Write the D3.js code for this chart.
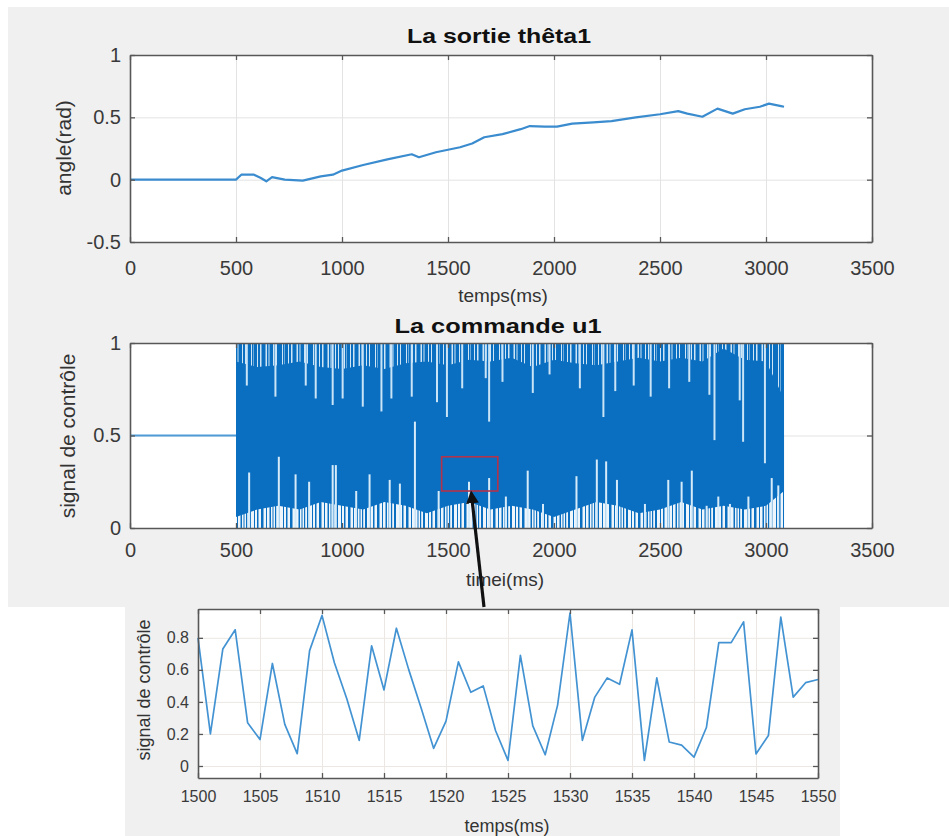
<!DOCTYPE html>
<html>
<head>
<meta charset="utf-8">
<script src="https://cdn.jsdelivr.net/npm/d3@7/dist/d3.min.js"></script>
<style>
  body { margin: 0; background: #fff; }
  svg { display: block; font-family: "Liberation Sans", Arial, sans-serif; }
  .tick text { fill: #3a3a3a; }
  .grid path { display: none; }
</style>
</head>
<body>
<script>
'use strict';

// ---- top plot : theta1 output (ms, rad)
const thetaTime = [0, 500, 525, 585, 615, 643, 670, 730, 815, 900, 957, 1000, 1100, 1214, 1329, 1363, 1443,
  1557, 1614, 1671, 1757, 1843, 1886, 1957, 2014, 2086, 2186, 2271, 2386, 2500, 2586, 2629, 2700,
  2771, 2843, 2900, 2971, 3014, 3071, 3085];
const thetaVal = [0, 0, 0.04, 0.04, 0.015, -0.013, 0.02, 0, -0.008, 0.026, 0.04, 0.073, 0.118, 0.163, 0.204, 0.18, 0.22,
  0.26, 0.29, 0.34, 0.365, 0.405, 0.43, 0.425, 0.425, 0.45, 0.46, 0.47, 0.5, 0.525, 0.55, 0.53, 0.505,
  0.57, 0.53, 0.565, 0.585, 0.61, 0.59, 0.585];

// ---- middle plot : command u1 (dense signal, read as envelope + visible gaps)
const u1Start = 500, u1End = 3085, u1Idle = 0.5;
const coreTime = [500, 600, 700, 800, 900, 1000, 1100, 1200, 1300, 1400, 1500, 1600, 1700, 1800,
  1900, 2000, 2100, 2200, 2300, 2400, 2500, 2600, 2700, 2800, 2900, 3000, 3085];
const coreHigh = [0.9, 0.87, 0.88, 0.9, 0.87, 0.86, 0.88, 0.86, 0.89, 0.9, 0.88, 0.91, 0.9, 0.92,
  0.87, 0.91, 0.89, 0.88, 0.9, 0.92, 0.9, 0.92, 0.9, 0.97, 0.91, 0.9, 0.7];
const coreLow = [0.06, 0.1, 0.12, 0.1, 0.14, 0.12, 0.1, 0.14, 0.12, 0.08, 0.12, 0.14, 0.1, 0.12,
  0.1, 0.06, 0.1, 0.14, 0.12, 0.08, 0.1, 0.14, 0.1, 0.12, 0.1, 0.12, 0.2];
// white gaps hanging from the top (time, lowest value reached by the gap)
const gapTopTime = [551, 686, 829, 876, 956, 1003, 1098, 1186, 1233, 1329, 1448, 1495, 1567, 1678, 1694,
  1757, 1900, 1979, 2122, 2233, 2289, 2376, 2456, 2543, 2638, 2733, 2757, 2876, 2892, 2995];
const gapTopVal = [0.77, 0.71, 0.77, 0.7, 0.665, 0.7, 0.656, 0.63, 0.7, 0.71, 0.68, 0.6, 0.755, 0.81, 0.575,
  0.79, 0.73, 0.83, 0.755, 0.6, 0.74, 0.77, 0.71, 0.755, 0.79, 0.72, 0.475, 0.69, 0.466, 0.35];
// white gaps rising from the bottom (time, highest value reached by the gap)
const gapLowTime = [562, 702, 781, 845, 956, 971, 1067, 1130, 1225, 1273, 1344, 1456, 1599, 1694, 1773,
  1876, 1948, 2106, 2202, 2246, 2297, 2429, 2539, 2602, 2650, 2720, 2775, 2830, 2917, 3027, 3058];
const gapLowVal = [0.3, 0.385, 0.29, 0.25, 0.34, 0.34, 0.2, 0.29, 0.26, 0.24, 0.575, 0.2, 0.25, 0.27, 0.17,
  0.31, 0.13, 0.28, 0.37, 0.36, 0.26, 0.13, 0.26, 0.25, 0.31, 0.12, 0.17, 0.13, 0.17, 0.27, 0.23];
// zoom box drawn on the command plot
const zoomBoxX = [1470, 1735], zoomBoxY = [0.2, 0.385];

// ---- bottom inset : u1 between 1500 and 1550 ms
const insetTime = d3.range(1500, 1551);
const insetVal = [0.8, 0.2, 0.73, 0.85, 0.27, 0.165, 0.64, 0.26, 0.077, 0.72, 0.94, 0.645, 0.42, 0.16, 0.75,
  0.475, 0.86, 0.6, 0.36, 0.11, 0.28, 0.65, 0.46, 0.5, 0.22, 0.035, 0.69, 0.25, 0.07, 0.38, 0.955,
  0.16, 0.43, 0.55, 0.51, 0.85, 0.035, 0.55, 0.15, 0.13, 0.055, 0.24, 0.77, 0.77, 0.9, 0.075,
  0.19, 0.93, 0.43, 0.52, 0.54];

const xTicksMain = [0, 500, 1000, 1500, 2000, 2500, 3000, 3500];
const xTicksInset = [1500, 1505, 1510, 1515, 1520, 1525, 1530, 1535, 1540, 1545, 1550];
const yTicksTheta = [-0.5, 0, 0.5, 1];
const yTicksU1 = [0, 0.5, 1];
const yTicksInset = [0, 0.2, 0.4, 0.6, 0.8];

(function() {

  const blue = '#0b6fc1';
  // matlab style numbers, plain hyphen for negatives
  const fmt = d => String(d);

  const svg = d3.select('body').append('svg')
    .attr('width', 949)
    .attr('height', 836);

  // figure backgrounds
  svg.append('rect').attr('x', 8).attr('y', 7).attr('width', 941).attr('height', 600).attr('fill', '#f0f0f0');
  svg.append('rect').attr('x', 125).attr('y', 600).attr('width', 715).attr('height', 236).attr('fill', '#f0f0f0');

  // stripe textures for the dense part of the command signal
  const defs = svg.append('defs');
  function stripes(id, period, bg, bars) {
    let p = defs.append('pattern').attr('id', id)
      .attr('patternUnits', 'userSpaceOnUse').attr('width', period).attr('height', 20);
    p.append('rect').attr('width', period).attr('height', 20).attr('fill', bg);
    bars.forEach(b => p.append('rect').attr('x', b[0]).attr('width', b[1]).attr('height', 20).attr('fill', blue));
  }
  stripes('combTop', 31, '#cfe6f7',
    [[0, 3], [4, 2], [7.5, 4], [13, 1.5], [15.5, 3.5], [20, 2], [23, 5], [29, 1.5]]);
  stripes('combLow', 29, '#eef6fc',
    [[0, 1.2], [3, 2], [8, 1], [11, 1.5], [15, 2.5], [20, 1], [23.5, 1.5], [26.5, 1]]);

  // build one axes box: scales, grid, ticks, labels
  function makeAxes(box, xDomain, yDomain, xTicks, yTicks, yFmt) {
    let g = svg.append('g').attr('transform', 'translate(' + box.x + ',' + box.y + ')');
    let x = d3.scaleLinear().domain(xDomain).range([0, box.w]);
    let y = d3.scaleLinear().domain(yDomain).range([box.h, 0]);

    g.append('rect').attr('width', box.w).attr('height', box.h).attr('fill', '#fff');

    g.append('g').attr('class', 'grid')
      .attr('transform', 'translate(0,' + box.h + ')')
      .call(d3.axisBottom(x).tickValues(xTicks).tickSize(-box.h).tickFormat(''))
      .selectAll('line').attr('stroke', box.grid);
    g.append('g').attr('class', 'grid')
      .call(d3.axisLeft(y).tickValues(yTicks).tickSize(-box.w).tickFormat(''))
      .selectAll('line').attr('stroke', box.grid);

    let plot = g.append('g');

    let frame = g.append('g');
    frame.append('g').attr('transform', 'translate(0,' + box.h + ')')
      .call(d3.axisBottom(x).tickValues(xTicks).tickSizeInner(-5).tickSizeOuter(0).tickPadding(box.padX).tickFormat(fmt));
    frame.append('g')
      .call(d3.axisLeft(y).tickValues(yTicks).tickSizeInner(-5).tickSizeOuter(0).tickPadding(box.padY).tickFormat(yFmt));
    frame.append('g')
      .call(d3.axisTop(x).tickValues(xTicks).tickSizeInner(-5).tickSizeOuter(0).tickFormat(''));
    frame.append('g').attr('transform', 'translate(' + box.w + ',0)')
      .call(d3.axisRight(y).tickValues(yTicks).tickSizeInner(-5).tickSizeOuter(0).tickFormat(''));
    frame.selectAll('path, line').attr('stroke', '#575757').attr('stroke-width', 1.3);
    frame.selectAll('.domain').attr('stroke-width', 1.6);
    frame.selectAll('text').attr('font-size', box.font);

    return {g: g, plot: plot, x: x, y: y, box: box};
  }

  function label(text, x, y, size, weight, rotate, len) {
    let t = svg.append('text')
      .attr('text-anchor', 'middle')
      .attr('fill', weight === 'bold' ? '#111' : '#333')
      .style('font-size', size + 'px')
      .style('font-weight', weight)
      .text(text);
    if (len) t.attr('textLength', len).attr('lengthAdjust', 'spacingAndGlyphs');
    if (rotate) t.attr('transform', 'translate(' + x + ',' + y + ')rotate(-90)');
    else t.attr('x', x).attr('y', y);
    return t;
  }

  // ---------- top plot
  let thetaPlot = makeAxes({x: 130, y: 55, w: 742, h: 187, grid: '#e3e3e3', font: 20, padX: 19, padY: 9},
    [0, 3500], [-0.5, 1], xTicksMain, yTicksTheta, fmt);

  thetaPlot.plot.append('path')
    .datum(thetaTime)
    .attr('fill', 'none')
    .attr('stroke', '#3a8ccf')
    .attr('stroke-width', 2.2)
    .attr('stroke-linejoin', 'round')
    .attr('d', d3.line().x(d => thetaPlot.x(d)).y((d, i) => thetaPlot.y(thetaVal[i])));

  label('La sortie thêta1', 499, 43, 20, 'bold', false, 184);
  label('temps(ms)', 503, 302, 19, 'normal');
  label('angle(rad)', 71, 148, 21, 'normal', true);

  // ---------- middle plot
  let mid = makeAxes({x: 130, y: 343, w: 742, h: 185, grid: '#e3e3e3', font: 20, padX: 15, padY: 9},
    [0, 3500], [0, 1], xTicksMain, yTicksU1, fmt);

  mid.plot.append('path')
    .datum([0, u1Start])
    .attr('stroke', '#4f9bd7')
    .attr('stroke-width', 2)
    .attr('d', d3.line().x(d => mid.x(d)).y(mid.y(u1Idle)));

  mid.plot.append('rect')
    .attr('x', mid.x(u1Start))
    .attr('y', mid.y(1))
    .attr('width', mid.x(u1End) - mid.x(u1Start))
    .attr('height', mid.y(0.5) - mid.y(1))
    .attr('fill', 'url(#combTop)');
  mid.plot.append('rect')
    .attr('x', mid.x(u1Start))
    .attr('y', mid.y(0.5))
    .attr('width', mid.x(u1End) - mid.x(u1Start))
    .attr('height', mid.y(0) - mid.y(0.5))
    .attr('fill', 'url(#combLow)');

  mid.plot.append('path')
    .datum(coreTime)
    .attr('fill', blue)
    .attr('d', d3.area().x(d => mid.x(d))
      .y0((d, i) => mid.y(coreLow[i]))
      .y1((d, i) => mid.y(coreHigh[i])));

  mid.plot.selectAll('.gapTop')
    .data(gapTopTime)
    .enter().append('line')
    .attr('x1', d => mid.x(d)).attr('x2', d => mid.x(d))
    .attr('y1', mid.y(1))
    .attr('y2', (d, i) => mid.y(gapTopVal[i]))
    .attr('stroke', '#c9e3f7')
    .attr('stroke-width', 2);

  mid.plot.selectAll('.gapLow')
    .data(gapLowTime)
    .enter().append('line')
    .attr('x1', d => mid.x(d)).attr('x2', d => mid.x(d))
    .attr('y1', mid.y(0))
    .attr('y2', (d, i) => mid.y(gapLowVal[i]))
    .attr('stroke', '#d6ebf9')
    .attr('stroke-width', 2);

  mid.plot.append('rect')
    .attr('x', mid.x(zoomBoxX[0]))
    .attr('y', mid.y(zoomBoxY[1]))
    .attr('width', mid.x(zoomBoxX[1]) - mid.x(zoomBoxX[0]))
    .attr('height', mid.y(zoomBoxY[0]) - mid.y(zoomBoxY[1]))
    .attr('fill', 'none')
    .attr('stroke', '#b2334a')
    .attr('stroke-width', 1.6);

  label('La commande u1', 498, 333, 20, 'bold', false, 207);
  label('timei(ms)', 505, 586, 19, 'normal');
  label('signal de contrôle', 75, 436, 21, 'normal', true);

  // ---------- inset
  let ins = makeAxes({x: 198, y: 609, w: 620, h: 169, grid: '#ece7e2', font: 16, padX: 13, padY: 9},
    [1500, 1550], [-0.075, 0.98], xTicksInset, yTicksInset, d3.format('.1~f'));

  ins.plot.append('path')
    .datum(insetTime)
    .attr('fill', 'none')
    .attr('stroke', '#4393d3')
    .attr('stroke-width', 1.7)
    .attr('stroke-linejoin', 'round')
    .attr('d', d3.line().x(d => ins.x(d)).y((d, i) => ins.y(insetVal[i])));

  label('temps(ms)', 507, 832, 18, 'normal');
  label('signal de contrôle', 150, 690, 18, 'normal', true);

  // arrow from the inset to the zoom box
  let tip = [mid.x(1610) + 130, mid.y(zoomBoxY[0]) + 343];
  defs.append('marker').attr('id', 'head')
    .attr('viewBox', '0 0 10 10').attr('refX', 8).attr('refY', 5)
    .attr('markerWidth', 4).attr('markerHeight', 4).attr('orient', 'auto')
    .append('path').attr('d', 'M0,0L10,5L0,10z').attr('fill', '#111');
  svg.append('line')
    .attr('x1', 484).attr('y1', 607)
    .attr('x2', tip[0]).attr('y2', tip[1] + 2)
    .attr('stroke', '#111')
    .attr('stroke-width', 3.2)
    .attr('marker-end', 'url(#head)');
})();
</script>
</body>
</html>
